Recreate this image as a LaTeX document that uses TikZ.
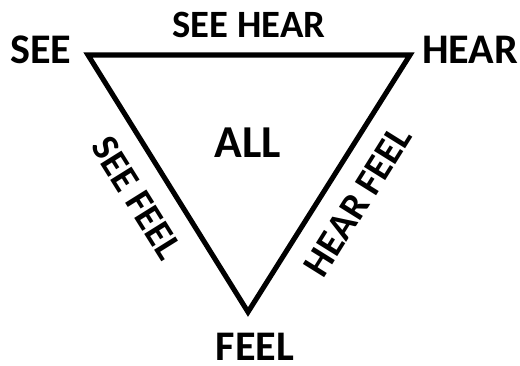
\documentclass[tikz,border=0pt]{standalone}
\usepackage{fontspec}
\setmainfont{Carlito}
\usetikzlibrary{positioning}

\tikzset{
  corner/.style={inner sep=0pt,font=\fontsize{24}{26}\selectfont\bfseries},
  side/.style={inner sep=0pt,font=\fontsize{22}{24}\selectfont\bfseries},
}

\begin{document}
\begin{tikzpicture}[x=0.02cm,y=-0.02cm]
\useasboundingbox (0,0) rectangle (520,365);
\coordinate (tl) at (88,55);
\coordinate (tr) at (410,55);
\coordinate (bt) at (248,312);
\draw[line width=2.9pt] (tl) -- (tr) -- (bt) -- cycle;
\node[corner] (see) at (41,50) {SEE};
\node[corner] (hear) at (470,50) {HEAR};
\node[corner] (feel) at (255,347) {FEEL};
\node[corner,font=\fontsize{26}{28}\selectfont\bfseries] (all) at (248,143) {ALL};
\node[side] (seehear) at (249,25) {SEE HEAR};
\node[side,rotate=-58] (seefeel) at (137,198) {SEE FEEL};
\node[side,rotate=58] (hearfeel) at (358,201) {HEAR FEEL};
\end{tikzpicture}
\end{document}
